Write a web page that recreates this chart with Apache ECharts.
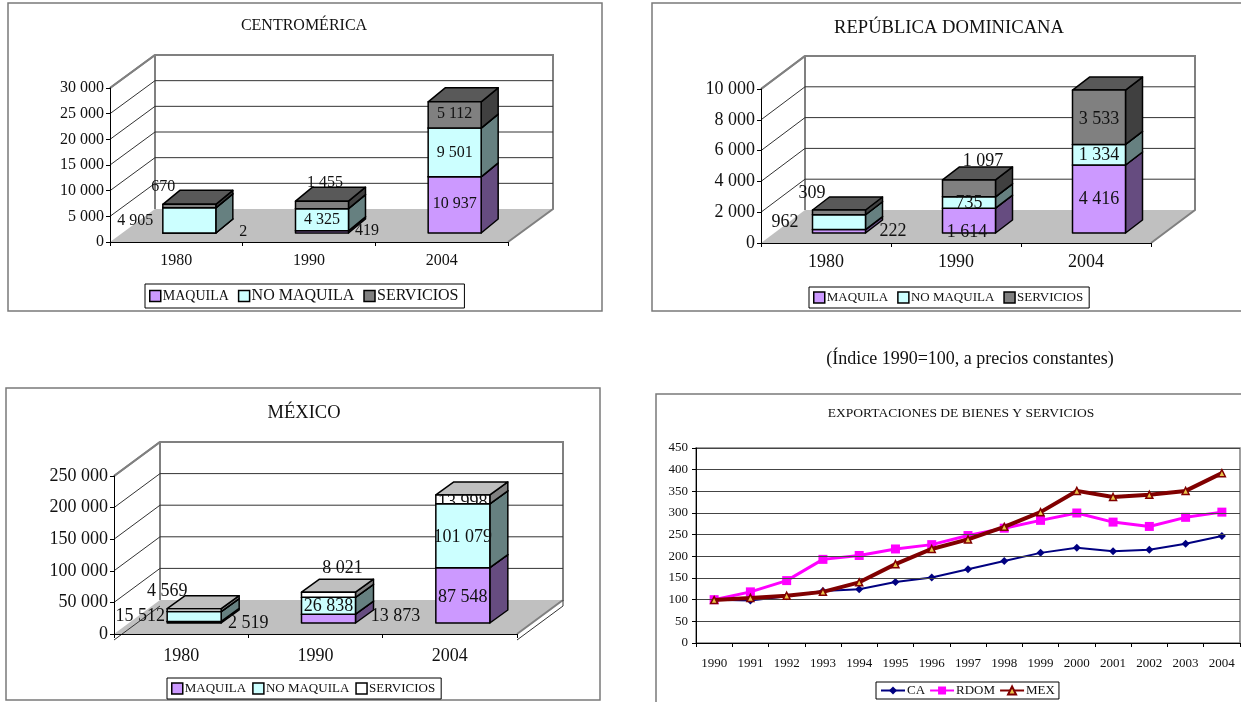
<!DOCTYPE html>
<html lang="es">
<head>
<meta charset="utf-8">
<title>Exportaciones de bienes y servicios</title>
<script src="https://cdn.jsdelivr.net/npm/echarts@6/dist/echarts.min.js"></script>
<style>
  html, body { margin: 0; padding: 0; background: #fff; overflow: hidden; }
  #chart { width: 1241px; height: 702px; }
</style>
</head>
<body>
<div id="chart"></div>
<script>
// Stacked export values by period
const periods = ['1980', '1990', '2004'];
const segmentNames = ['MAQUILA', 'NO MAQUILA', 'SERVICIOS'];

const caMaquila = [2, 419, 10937];
const caNoMaquila = [4905, 4325, 9501];
const caServicios = [670, 1455, 5112];

const rdMaquila = [222, 1614, 4416];
const rdNoMaquila = [962, 735, 1334];
const rdServicios = [309, 1097, 3533];

const mxMaquila = [2519, 13873, 87548];
const mxNoMaquila = [15512, 26838, 101079];
const mxServicios = [4569, 8021, 13998];

// Export index series, 1990 = 100
const years = ['1990', '1991', '1992', '1993', '1994', '1995', '1996', '1997',
  '1998', '1999', '2000', '2001', '2002', '2003', '2004'];
const indexCA = [100, 98, 108, 120, 124, 141, 151, 170, 189, 208, 220, 212, 215, 229, 247];
const indexRDOM = [100, 118, 144, 193, 202, 217, 227, 248, 265, 283, 300, 279, 269, 290, 302];
const indexMEX = [99, 104, 109, 118, 140, 182, 217, 239, 268, 302, 351, 337, 342, 351, 392];

const FONT = '"Liberation Serif", "Times New Roman", serif';

// Box faces: front, side, top
const PURPLE = ['#CC99FF', '#664C80', '#7F66A0'];
const CYAN = ['#CCFFFF', '#668080', '#99BFBF'];
const GREY = ['#808080', '#404040', '#595959'];
const WHITE = ['#FFFFFF', '#808080', '#BFBFBF'];

// Label shifts are relative to the segment's front face: [dx, dy, layer]
// layer 'under' keeps the text beneath the box, 'clip' trims it to the front face
const panels = [
  {
    title: 'CENTROMÉRICA', titleX: 304, titleY: 18, titleSize: 16,
    frame: [8, 3, 594, 308],
    grid: [110, 88, 398, 154], depth: [45, 33],
    barOffset: [13, 9], barDepth: [17, 14], barWidth: 53,
    max: 30000, interval: 5000,
    fontSize: 16, tickSize: 16, catSize: 16, catMargin: 11, axisOffset: 0,
    series: [caMaquila, caNoMaquila, caServicios],
    faces: [PURPLE, CYAN, GREY],
    shifts: [
      [[54, -1], [45, -1], [0, -1]],
      [[-54, 0], [0, 0], [0, 0]],
      [[-26, -19], [3, -22, 'under'], [0, -1]]
    ],
    legend: [145, 284], legendPad: [4, 6, 4, 4], legendSizes: [14, 16, 16], legendGap: 9
  },
  {
    title: 'REPÚBLICA DOMINICANA', titleX: 949, titleY: 19, titleSize: 18.6,
    frame: [652, 3, 596, 308],
    grid: [761, 89, 390, 154], depth: [44, 33],
    barOffset: [13, 10], barDepth: [17, 13], barWidth: 53,
    max: 10000, interval: 2000,
    fontSize: 18, tickSize: 18, catSize: 18, catMargin: 10, axisOffset: 0,
    series: [rdMaquila, rdNoMaquila, rdServicios],
    faces: [PURPLE, CYAN, GREY],
    shifts: [
      [[54, 0], [-2, 12], [0, 0]],
      [[-54, 0], [0, 1], [0, 1]],
      [[-27, -19], [14, -27, 'under'], [0, 2]]
    ],
    legend: [809, 287], legendPad: [4, 6, 4, 4], legendSizes: [13, 13, 13], legendGap: 9
  },
  {
    title: 'MÉXICO', titleX: 304, titleY: 404, titleSize: 18.5,
    frame: [6, 388, 594, 312],
    grid: [114, 476, 403, 158], depth: [46, 34],
    barOffset: [13, 11], barDepth: [18, 13], barWidth: 54,
    max: 250000, interval: 50000,
    fontSize: 18, tickSize: 18, catSize: 18, catMargin: 7, axisOffset: 6,
    series: [mxMaquila, mxNoMaquila, mxServicios],
    faces: [PURPLE, CYAN, WHITE],
    shifts: [
      [[54, 1], [67, -2], [0, 2]],
      [[-54, 0], [0, 1], [0, 2]],
      [[-27, -19], [14, -26], [0, 3, 'clip']]
    ],
    legend: [167, 678], legendPad: [4, 6, 4, 4], legendSizes: [13, 13, 13], legendGap: 6
  }
];

const spaced = (v) => String(Math.round(v)).replace(/\B(?=(\d{3})+(?!\d))/g, ' ');

// Draws the floor, walls and gridlines of a box chart; one data item per tick
function renderWalls(panel) {
  const [dx, dy] = panel.depth;
  return function (params, api) {
    const r = params.coordSys;
    const x0 = r.x, x1 = r.x + r.width, y1 = r.y + r.height;
    const tick = api.value(1);
    const y = api.coord([0, tick])[1];
    const children = [];
    if (tick === 0) {
      children.push({
        type: 'polygon',
        shape: { points: [[x0, y1], [x0, r.y], [x0 + dx, r.y - dy], [x1 + dx, r.y - dy], [x1 + dx, y1 - dy], [x1, y1]] },
        style: { fill: '#FFFFFF' }
      });
      children.push({
        type: 'polygon',
        shape: { points: [[x0, y1], [x1, y1], [x1 + dx, y1 - dy], [x0 + dx, y1 - dy]] },
        style: { fill: '#C0C0C0' }
      });
      children.push({
        type: 'polyline',
        shape: { points: [[x0, r.y], [x0 + dx, r.y - dy], [x1 + dx, r.y - dy], [x1 + dx, y1 - dy], [x1, y1]] },
        style: { fill: 'none', stroke: '#808080', lineWidth: 2 }
      });
      children.push({
        type: 'line',
        shape: { x1: x0 + dx, y1: r.y - dy, x2: x0 + dx, y2: y1 - dy },
        style: { stroke: '#808080', lineWidth: 2 }
      });
      if (panel.axisOffset) {
        // Floor slab below the plane of the zero line
        const t = panel.axisOffset;
        children.push({
          type: 'polyline',
          shape: { points: [[x1, y1 + t], [x1 + dx, y1 - dy + t], [x1 + dx, y1 - dy]] },
          style: { fill: 'none', stroke: '#333333', lineWidth: 1 }
        });
        children.push({
          type: 'line',
          shape: { x1: x0, y1: y1 + t, x2: x0 + dx, y2: y1 - dy + t },
          style: { stroke: '#333333', lineWidth: 1 }
        });
      }
    } else {
      const isTop = tick === panel.max;
      children.push({
        type: 'polyline',
        shape: isTop
          ? { points: [[x0, y], [x0 + dx, y - dy]] }
          : { points: [[x0, y], [x0 + dx, y - dy], [x1 + dx, y - dy]] },
        style: { fill: 'none', stroke: isTop ? '#808080' : '#333333', lineWidth: isTop ? 2 : 1 }
      });
    }
    return { type: 'group', children };
  };
}

// Draws one segment of a stacked box, with its value label
function renderSegment(panel, faces, shifts) {
  const [ox, oy] = panel.barOffset;
  const [bx, by] = panel.barDepth;
  const half = panel.barWidth / 2;
  const edge = { stroke: '#000000', lineWidth: 1.5, lineJoin: 'round' };
  return function (params, api) {
    const c = api.value(0);
    const base = api.value(1);
    const val = api.value(2);
    const bottom = api.coord([c, base]);
    const top = api.coord([c, base + val]);
    const xl = bottom[0] + ox - half;
    const xr = bottom[0] + ox + half;
    const yb = bottom[1] - oy;
    const yt = top[1] - oy;
    const shift = shifts[c];
    const label = {
      type: 'text',
      z2: shift[2] === 'under' ? -1 : 100,
      x: (xl + xr) / 2 + shift[0],
      y: (yb + yt) / 2 + shift[1],
      style: {
        text: spaced(val),
        fill: '#111111',
        font: panel.fontSize + 'px ' + FONT,
        textAlign: 'center',
        textVerticalAlign: 'middle'
      }
    };
    const children = [
      {
        type: 'polygon',
        shape: { points: [[xr, yb], [xr + bx, yb - by], [xr + bx, yt - by], [xr, yt]] },
        style: Object.assign({ fill: faces[1] }, edge)
      },
      {
        type: 'polygon',
        shape: { points: [[xl, yt], [xr, yt], [xr + bx, yt - by], [xl + bx, yt - by]] },
        style: Object.assign({ fill: faces[2] }, edge)
      },
      {
        type: 'polygon',
        shape: { points: [[xl, yb], [xr, yb], [xr, yt], [xl, yt]] },
        style: Object.assign({ fill: faces[0] }, edge)
      }
    ];
    if (shift[2] === 'clip') {
      // The text stays inside the front face, so its tops are cut by the edge
      children.push({
        type: 'group',
        clipPath: { type: 'rect', shape: { x: xl, y: yt, width: xr - xl, height: yb - yt } },
        children: [label]
      });
    } else {
      children.push(label);
    }
    return { type: 'group', children };
  };
}

const titleStyle = (size) => ({ fontFamily: FONT, fontWeight: 'normal', fontSize: size, color: '#111111' });

const option = {
  backgroundColor: '#FFFFFF',
  animation: false,
  graphic: {
    elements: panels.map((p) => ({
      type: 'rect', silent: true, z: -10,
      shape: { x: p.frame[0], y: p.frame[1], width: p.frame[2], height: p.frame[3] },
      style: { fill: '#FFFFFF', stroke: '#7A7A7A', lineWidth: 1.5 }
    })).concat([{
      type: 'rect', silent: true, z: -10,
      shape: { x: 656, y: 394, width: 600, height: 330 },
      style: { fill: '#FFFFFF', stroke: '#7A7A7A', lineWidth: 1.5 }
    }])
  },
  title: [],
  legend: [],
  grid: [],
  xAxis: [],
  yAxis: [],
  series: []
};

panels.forEach((p, i) => {
  option.title.push({
    text: p.title, left: p.titleX, top: p.titleY, textAlign: 'center', padding: 0,
    textStyle: titleStyle(p.titleSize)
  });
  option.grid.push({ left: p.grid[0], top: p.grid[1], width: p.grid[2], height: p.grid[3] });
  option.xAxis.push({
    type: 'category', gridIndex: i, data: periods, z: 5, offset: p.axisOffset,
    axisLine: { lineStyle: { color: '#000000', width: 1 } },
    axisTick: { show: true, length: 4, lineStyle: { color: '#000000' } },
    axisLabel: { fontFamily: FONT, fontSize: p.catSize, color: '#111111', margin: p.catMargin }
  });
  option.yAxis.push({
    type: 'value', gridIndex: i, min: 0, max: p.max, interval: p.interval, z: 5,
    axisLine: { show: true, lineStyle: { color: '#000000', width: 1 } },
    axisTick: { show: true, length: 4, lineStyle: { color: '#000000' } },
    splitLine: { show: false },
    axisLabel: { fontFamily: FONT, fontSize: p.tickSize, color: '#111111', margin: 6, formatter: spaced }
  });
  const ticks = [];
  for (let t = 0; t <= p.max; t += p.interval) ticks.push([0, t]);
  option.series.push({
    type: 'custom', name: 'paredes', coordinateSystem: 'cartesian2d', z: 1, silent: true,
    xAxisIndex: i, yAxisIndex: i, clip: false,
    encode: { x: 0, y: 1 }, data: ticks, renderItem: renderWalls(p)
  });
  p.series.forEach((values, s) => {
    const rows = values.map((v, c) => {
      let base = 0;
      for (let k = 0; k < s; k++) base += p.series[k][c];
      return [c, base, v];
    });
    option.series.push({
      type: 'custom', name: segmentNames[s], coordinateSystem: 'cartesian2d', z: 2,
      xAxisIndex: i, yAxisIndex: i, clip: false,
      encode: { x: 0, y: [1, 2] },
      itemStyle: { color: p.faces[s][0] },
      data: rows,
      renderItem: renderSegment(p, p.faces[s], p.shifts[s])
    });
  });
  option.legend.push({
    left: p.legend[0], top: p.legend[1], orient: 'horizontal',
    backgroundColor: '#FFFFFF', borderColor: '#000000', borderWidth: 1,
    padding: p.legendPad, itemWidth: 11, itemHeight: 11, itemGap: p.legendGap, selectedMode: false,
    textStyle: { fontFamily: FONT, color: '#111111' },
    data: segmentNames.map((n, s) => ({
      name: n, icon: 'rect',
      textStyle: { fontSize: p.legendSizes[s], fontFamily: FONT, color: '#111111', padding: [0, 0, 0, -3] },
      itemStyle: { color: p.faces[s][0], borderColor: '#000000', borderWidth: 1.5 }
    }))
  });
});

// Line chart of the export index
option.title.push({
  text: '(Índice 1990=100, a precios constantes)', left: 970, top: 350, textAlign: 'center', padding: 0,
  textStyle: titleStyle(18)
});
option.title.push({
  text: 'EXPORTACIONES DE BIENES Y SERVICIOS', left: 961, top: 406, textAlign: 'center', padding: 0,
  textStyle: titleStyle(13.5)
});
option.grid.push({
  show: true, left: 696, top: 448, width: 544, height: 195,
  borderColor: '#808080', borderWidth: 1.5, backgroundColor: 'transparent'
});
option.xAxis.push({
  type: 'category', gridIndex: 3, data: years, z: 5,
  axisLine: { lineStyle: { color: '#000000' } },
  axisTick: { show: true, length: 4, lineStyle: { color: '#000000' } },
  axisLabel: { fontFamily: FONT, fontSize: 13, color: '#111111', margin: 14, interval: 0 }
});
option.yAxis.push({
  type: 'value', gridIndex: 3, min: 0, max: 450, interval: 50, z: 5,
  axisLine: { show: true, lineStyle: { color: '#000000' } },
  axisTick: { show: true, length: 4, lineStyle: { color: '#000000' } },
  splitLine: { show: true, lineStyle: { color: '#444444', width: 1 } },
  axisLabel: { fontFamily: FONT, fontSize: 13, color: '#111111', margin: 8 }
});
option.series.push(
  {
    type: 'line', name: 'CA', xAxisIndex: 3, yAxisIndex: 3, data: indexCA, z: 3,
    lineStyle: { color: '#000080', width: 2 }, itemStyle: { color: '#000080' },
    symbol: 'diamond', symbolSize: 8
  },
  {
    type: 'line', name: 'RDOM', xAxisIndex: 3, yAxisIndex: 3, data: indexRDOM, z: 4,
    lineStyle: { color: '#FF00FF', width: 3 }, itemStyle: { color: '#FF00FF' },
    symbol: 'rect', symbolSize: 9
  },
  {
    type: 'line', name: 'MEX', xAxisIndex: 3, yAxisIndex: 3, data: indexMEX, z: 5,
    lineStyle: { color: '#800000', width: 4 },
    itemStyle: { color: '#E8C44A', borderColor: '#800000', borderWidth: 1.5 },
    symbol: 'triangle', symbolSize: 7
  }
);
option.legend.push({
  left: 876, top: 682, orient: 'horizontal',
  backgroundColor: '#FFFFFF', borderColor: '#000000', borderWidth: 1,
  padding: [2, 4], itemWidth: 24, itemHeight: 10, itemGap: 4, selectedMode: false,
  textStyle: { fontFamily: FONT, fontSize: 13, color: '#111111', padding: [0, 0, 0, -3] },
  data: ['CA', 'RDOM', 'MEX']
});

const chart = echarts.init(document.getElementById('chart'), null, { renderer: 'canvas' });
chart.setOption(option);
</script>
</body>
</html>
